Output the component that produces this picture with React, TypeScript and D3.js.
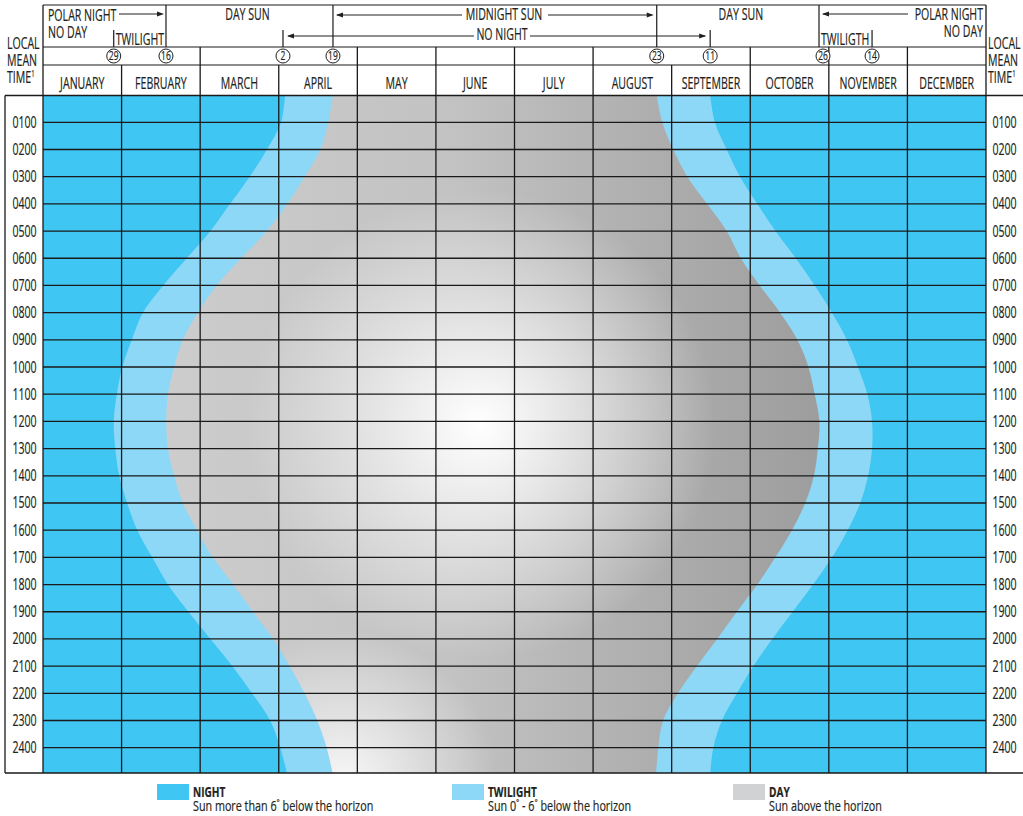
import React from "react";
import * as d3 from "d3";

// ---------- data ----------
const MONTHS = ["JANUARY", "FEBRUARY", "MARCH", "APRIL", "MAY", "JUNE", "JULY", "AUGUST", "SEPTEMBER", "OCTOBER", "NOVEMBER", "DECEMBER"];
const HOUR_LABELS = ["0100", "0200", "0300", "0400", "0500", "0600", "0700", "0800", "0900", "1000", "1100", "1200", "1300", "1400", "1500", "1600", "1700", "1800", "1900", "2000", "2100", "2200", "2300", "2400"];

// boundary samples, hour of day (local mean time) -> position in months (0 = 1 Jan, 12 = 31 Dec)
const HOURS = [0, 1, 2, 3, 4, 5, 6, 7, 8, 9, 10, 11, 12, 13, 14, 15, 16, 17, 18, 19, 20, 21, 22, 23, 24, 25];
const LEFT_NIGHT_EDGE = [3.08, 3.03, 2.85, 2.63, 2.38, 2.13, 1.83, 1.53, 1.27, 1.13, 1.01, 0.94, 0.9, 0.92, 0.97, 1.07, 1.2, 1.39, 1.59, 1.85, 2.13, 2.41, 2.66, 2.89, 3.02, 3.11];
const LEFT_DAY_EDGE = [3.69, 3.63, 3.53, 3.33, 3.11, 2.85, 2.52, 2.21, 1.97, 1.78, 1.67, 1.59, 1.57, 1.59, 1.67, 1.78, 1.96, 2.16, 2.42, 2.67, 2.93, 3.14, 3.33, 3.49, 3.61, 3.69];
const RIGHT_DAY_EDGE = [7.81, 7.88, 8.02, 8.2, 8.45, 8.7, 8.88, 9.12, 9.38, 9.6, 9.74, 9.82, 9.88, 9.86, 9.81, 9.7, 9.53, 9.32, 9.09, 8.83, 8.58, 8.32, 8.08, 7.89, 7.83, 7.8];
const RIGHT_NIGHT_EDGE = [8.49, 8.55, 8.7, 8.87, 9.09, 9.32, 9.58, 9.82, 10.04, 10.23, 10.37, 10.49, 10.55, 10.55, 10.5, 10.4, 10.24, 10.04, 9.8, 9.54, 9.28, 9.04, 8.83, 8.64, 8.53, 8.49];

// key dates (circled), position in months
const KEY_LABELS = ["29", "16", "2", "19", "23", "11", "26", "14"];
const KEY_POS = [0.9, 1.565, 3.054, 3.69, 7.81, 8.49, 9.875, 10.55];
// month boundaries that also run through the key-date row
const ROW2_BOUNDARIES = [2, 4, 5, 6, 7, 9, 10, 11];

const LEGEND_TITLES = ["NIGHT", "TWILIGHT", "DAY"];
const LEGEND_DESCS = ["Sun more than 6˚ below the horizon", "Sun 0˚ - 6˚ below the horizon", "Sun above the horizon"];

// ---------- styling ----------
const NIGHT = "#3fc6f3";
const TWI = "#8dd8f6";
const DAYSW = "#d1d2d4";
const INK = "#231f20";
const SX = 0.65;
const FS = 16.3;

function T({ x, y, anchor = "start", size = FS, weight = 400, sx = SX, children }: any) {
  return (
    <text transform={`translate(${x},${y}) scale(${sx},1)`} textAnchor={anchor} fontSize={size} fontWeight={weight} fill={INK} stroke={INK} strokeWidth={0.2}>
      {children}
    </text>
  );
}

function Arrow({ x, y, dir }: { x: number; y: number; dir: 1 | -1 }) {
  const L = 7, W = 2.6;
  return <path d={`M${x},${y} L${x - dir * L},${y - W} L${x - dir * L},${y + W} Z`} fill={INK} />;
}

export default function App() {
  const xM = d3.scaleLinear().domain([0, 12]).range([43, 986]);
  const yH = d3.scaleLinear().domain([0, 24]).range([95.1, 747.7]);
  const TOP = 95.5;
  const BOTTOM = 773;
  const LEFT = xM(0);
  const RIGHT = xM(12);

  const rows = HOURS.map((h, i) => ({ h, ln: LEFT_NIGHT_EDGE[i], ld: LEFT_DAY_EDGE[i], rd: RIGHT_DAY_EDGE[i], rn: RIGHT_NIGHT_EDGE[i] }));
  const curve = d3.curveCatmullRom.alpha(0.5);
  const twilightPath = d3.area<any>().y((d) => yH(d.h)).x0((d) => xM(d.ln)).x1((d) => xM(d.rn)).curve(curve)(rows) || "";
  const dayPath = d3.area<any>().y((d) => yH(d.h)).x0((d) => xM(d.ld)).x1((d) => xM(d.rd)).curve(curve)(rows) || "";

  const kx = KEY_POS.map((p) => xM(p));
  const lineC = "#1a1a1a";

  return (
    <svg width={1023} height={816} style={{ position: "absolute", left: 0, top: 0, background: "#fff" }} fontFamily="'Open Sans', 'Noto Sans', sans-serif">
      <defs>
        <clipPath id="plot">
          <rect x={LEFT} y={TOP} width={RIGHT - LEFT} height={BOTTOM - TOP} />
        </clipPath>
        <linearGradient id="dayBase" gradientUnits="userSpaceOnUse" x1={160} y1={0} x2={820} y2={0}>
          <stop offset="0" stopColor="#cdcdcd" />
          <stop offset="0.45" stopColor="#c2c2c2" />
          <stop offset="1" stopColor="#9d9d9d" />
        </linearGradient>
        <radialGradient id="dayGlow" gradientUnits="userSpaceOnUse" cx={480} cy={425} r={235}>
          <stop offset="0" stopColor="#fff" stopOpacity={1} />
          <stop offset="0.4" stopColor="#fff" stopOpacity={0.6} />
          <stop offset="1" stopColor="#fff" stopOpacity={0} />
        </radialGradient>
        <radialGradient id="dayGlowBottom" gradientUnits="userSpaceOnUse" cx={345} cy={780} r={150}>
          <stop offset="0" stopColor="#fff" stopOpacity={0.85} />
          <stop offset="1" stopColor="#fff" stopOpacity={0} />
        </radialGradient>
      </defs>

      {/* plot fills */}
      <g clipPath="url(#plot)">
        <rect x={LEFT} y={TOP} width={RIGHT - LEFT} height={BOTTOM - TOP} fill={NIGHT} />
        <path d={twilightPath} fill={TWI} />
        <path d={dayPath} fill="url(#dayBase)" />
        <path d={dayPath} fill="url(#dayGlow)" />
        <path d={dayPath} fill="url(#dayGlowBottom)" />
      </g>

      {/* hour lines */}
      {HOUR_LABELS.map((lab, i) => (
        <line key={"h" + i} x1={LEFT} x2={RIGHT} y1={yH(i + 1)} y2={yH(i + 1)} stroke={lineC} strokeWidth={1.3} />
      ))}
      {/* month boundaries */}
      {d3.range(1, 12).map((m) => (
        <line key={"m" + m} x1={xM(m)} x2={xM(m)} y1={ROW2_BOUNDARIES.includes(m) ? 47 : 65} y2={BOTTOM} stroke={lineC} strokeWidth={1.3} />
      ))}

      {/* frame */}
      <line x1={LEFT} x2={RIGHT} y1={5} y2={5} stroke={lineC} strokeWidth={1.2} />
      <line x1={LEFT} x2={RIGHT} y1={47} y2={47} stroke={lineC} strokeWidth={1.2} />
      <line x1={LEFT} x2={RIGHT} y1={65} y2={65} stroke={lineC} strokeWidth={1.2} />
      <line x1={5} x2={1023} y1={TOP} y2={TOP} stroke={lineC} strokeWidth={1.3} />
      <line x1={5} x2={1023} y1={BOTTOM} y2={BOTTOM} stroke={lineC} strokeWidth={1.3} />
      <line x1={5} x2={5} y1={TOP} y2={BOTTOM} stroke={lineC} strokeWidth={1.3} />
      <line x1={LEFT} x2={LEFT} y1={5} y2={BOTTOM} stroke={lineC} strokeWidth={1.3} />
      <line x1={RIGHT} x2={RIGHT} y1={5} y2={BOTTOM} stroke={lineC} strokeWidth={1.3} />

      {/* row-1 dividers and ticks */}
      {[1, 3, 4, 6].map((k) => (
        <line key={"d" + k} x1={kx[k]} x2={kx[k]} y1={5} y2={47} stroke={lineC} strokeWidth={1.2} />
      ))}
      {[0, 2, 5, 7].map((k) => (
        <line key={"t" + k} x1={kx[k]} x2={kx[k]} y1={30} y2={47} stroke={lineC} strokeWidth={1.2} />
      ))}

      {/* row-1 texts */}
      <T x={48} y={21}>POLAR NIGHT</T>
      <line x1={119} x2={kx[1] - 4} y1={14} y2={14} stroke={INK} strokeWidth={1} />
      <Arrow x={kx[1] - 2} y={14} dir={1} />
      <T x={48} y={38}>NO DAY</T>
      <T x={kx[0] + 2} y={45}>TWILIGHT</T>

      <T x={(kx[1] + kx[3]) / 2 - 2} y={20} anchor="middle">DAY SUN</T>

      <T x={504} y={20} anchor="middle">MIDNIGHT SUN</T>
      <line x1={kx[3] + 4} x2={462} y1={15} y2={15} stroke={INK} strokeWidth={1} />
      <Arrow x={kx[3] + 3} y={15} dir={-1} />
      <line x1={548} x2={kx[4] - 5} y1={15} y2={15} stroke={INK} strokeWidth={1} />
      <Arrow x={kx[4] - 3} y={15} dir={1} />

      <T x={502} y={40} anchor="middle">NO NIGHT</T>
      <line x1={kx[2] + 5} x2={474} y1={36} y2={36} stroke={INK} strokeWidth={1} />
      <Arrow x={kx[2] + 4} y={36} dir={-1} />
      <line x1={530} x2={kx[5] - 5} y1={36} y2={36} stroke={INK} strokeWidth={1} />
      <Arrow x={kx[5] - 4} y={36} dir={1} />

      <T x={(kx[4] + kx[6]) / 2 + 3} y={20} anchor="middle">DAY SUN</T>

      <T x={983} y={20} anchor="end">POLAR NIGHT</T>
      <line x1={kx[6] + 4} x2={908} y1={14} y2={14} stroke={INK} strokeWidth={1} />
      <Arrow x={kx[6] + 3} y={14} dir={-1} />
      <T x={983} y={37} anchor="end">NO DAY</T>
      <T x={kx[6] + 2} y={45}>TWILIGTH</T>

      {/* key date circles */}
      {KEY_LABELS.map((lab, i) => (
        <g key={"k" + i}>
          <circle cx={kx[i] + (i === 6 ? 4 : 0)} cy={56} r={7} fill="#fff" stroke={INK} strokeWidth={1} />
          <T x={kx[i] + (i === 6 ? 4 : 0)} y={60.3} anchor="middle" size={12.5} sx={0.68} >{lab}</T>
        </g>
      ))}

      {/* month labels */}
      {MONTHS.map((m, i) => (
        <T key={m} x={xM(i + 0.5)} y={89} anchor="middle">{m}</T>
      ))}

      {/* side labels */}
      {[7, 988].map((x, j) => (
        <g key={"side" + j}>
          <T x={x} y={49}>LOCAL</T>
          <T x={x} y={65.5}>MEAN</T>
          <T x={x} y={83}>TIME<tspan fontSize={9} dy={-6}>1</tspan></T>
        </g>
      ))}

      {/* hour labels */}
      {HOUR_LABELS.map((lab, i) => (
        <g key={"hl" + i}>
          <T x={24.5} y={yH(i + 1) + 5.5} anchor="middle">{lab}</T>
          <T x={1004.5} y={yH(i + 1) + 5.5} anchor="middle">{lab}</T>
        </g>
      ))}

      {/* legend */}
      {[NIGHT, TWI, DAYSW].map((c, i) => {
        const lx = [157, 452, 733][i];
        return (
          <g key={"lg" + i}>
            <rect x={lx} y={784} width={32} height={16} fill={c} />
            <T x={lx + 36} y={796.5} size={14} weight={700} sx={0.72}>{LEGEND_TITLES[i]}</T>
            <T x={lx + 36} y={811} size={14} sx={0.77}>{LEGEND_DESCS[i]}</T>
          </g>
        );
      })}
    </svg>
  );
}
